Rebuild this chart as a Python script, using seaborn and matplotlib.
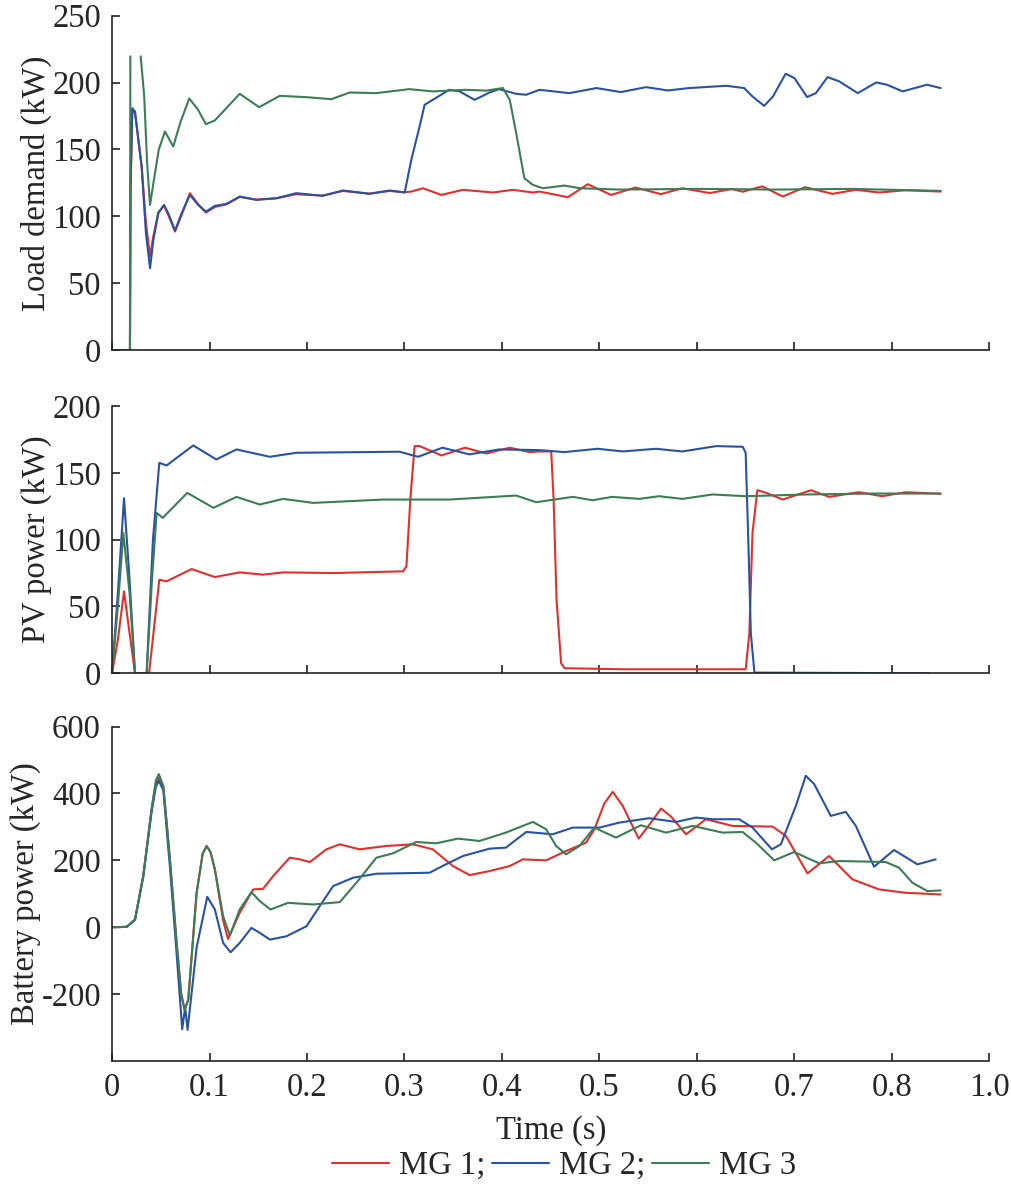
import numpy as np
import pandas as pd
import seaborn as sns
import matplotlib.pyplot as plt
from matplotlib.lines import Line2D

# ---- data (time in s, power in kW) ----
# Load demand
load_mg1_t = [0.0, 0.0184, 0.0190, 0.0208, 0.0236, 0.0304, 0.0348, 0.039, 0.0424, 0.0475, 0.0533, 0.0577,
              0.0646, 0.0714, 0.0799, 0.0884, 0.0963, 0.1055, 0.1175, 0.131, 0.148, 0.1687, 0.189, 0.216,
              0.237, 0.264, 0.2848, 0.3002, 0.307, 0.319, 0.3378, 0.36, 0.3907, 0.4112, 0.4317, 0.4385,
              0.4677, 0.488, 0.512, 0.537, 0.563, 0.585, 0.613, 0.636, 0.647, 0.667, 0.688, 0.711, 0.739,
              0.763, 0.787, 0.814, 0.850]
load_mg1_v = [0, 0, 120, 179.6, 177, 137, 95, 70, 85, 103, 108, 101, 88.6, 101, 117.3, 109, 102.8, 107, 109,
              114.5, 112.5, 113.5, 116.5, 115.5, 119, 117, 119, 118, 118.5, 121, 116, 119.8, 117.8, 119.8,
              117.8, 118.5, 114.3, 124, 116, 121.5, 116.6, 121, 117.4, 120.4, 118.4, 122.4, 114.8, 121.8,
              116.8, 119.8, 117.8, 119.5, 118.5]
load_mg2_t = [0.0, 0.0184, 0.0190, 0.0208, 0.0236, 0.0304, 0.0348, 0.039, 0.0424, 0.0475, 0.0533, 0.0577,
              0.0646, 0.0714, 0.0799, 0.0884, 0.0963, 0.1055, 0.1175, 0.131, 0.148, 0.1687, 0.189, 0.216,
              0.237, 0.264, 0.2848, 0.3002, 0.307, 0.3155, 0.3207, 0.329, 0.346, 0.3566, 0.372, 0.3873,
              0.397, 0.4146, 0.4249, 0.4385, 0.469, 0.497, 0.522, 0.548, 0.570, 0.592, 0.630, 0.6485, 0.657,
              0.669, 0.678, 0.691, 0.700, 0.713, 0.722, 0.734, 0.746, 0.765, 0.784, 0.795, 0.811, 0.836,
              0.850]
load_mg2_v = [0, 0, 120, 180.9, 178.4, 137.2, 87.3, 61.1, 82.3, 102.3, 108.5, 102.3, 89.3, 102.3, 116,
              108.5, 103.5, 107.8, 109.3, 114.8, 112.3, 113.5, 117.3, 115.3, 119.3, 116.8, 119.3, 117.8,
              142.2, 167.2, 183.4, 187.1, 194.6, 193.4, 187.1, 192.6, 195.1, 191.6, 190.9, 194.6, 192.1,
              195.9, 192.9, 196.6, 194.1, 195.9, 197.6, 195.9, 189.6, 182.6, 189.6, 206.6, 203.4, 189.2,
              192.1, 204.1, 200.9, 192.1, 200.1, 198.4, 193.4, 198.4, 195.9]
load_mg3_t = [0.0, 0.0184, 0.0188, 0.0294, 0.0330, 0.036, 0.039, 0.0425, 0.0480, 0.0543, 0.0628, 0.0700,
              0.0792, 0.0880, 0.0963, 0.1055, 0.131, 0.151, 0.172, 0.1995, 0.225, 0.244, 0.271, 0.305,
              0.329, 0.363, 0.384, 0.401, 0.408, 0.4146, 0.423, 0.4317, 0.442, 0.464, 0.48, 0.52, 0.6,
              0.68, 0.76, 0.850]
load_mg3_v = [0, 0, 219.6, 219.6, 190, 140, 108.5, 125, 150, 163.4, 152.2, 170, 188.1, 180, 168.9, 171.7,
              191.6, 181.6, 190.1, 189.1, 187.6, 192.6, 192.1, 195.1, 193.4, 194.6, 194, 195.9, 187.1,
              162.2, 128.5, 123.5, 121, 123, 121, 120, 120.5, 120, 120.5, 119]
load_mg3_seg = [0, 0, 0, 1, 1, 1, 1, 1, 1, 1, 1, 1, 1, 1, 1, 1, 1, 1, 1, 1, 1, 1, 1, 1, 1, 1, 1, 1, 1, 1,
                1, 1, 1, 1, 1, 1, 1, 1, 1, 1]

# PV power
pv_mg1_t = [0.0, 0.006, 0.0123, 0.018, 0.0236, 0.038, 0.0440, 0.0485, 0.056, 0.0816, 0.1055, 0.131, 0.155,
            0.1755, 0.2268, 0.2985, 0.302, 0.306, 0.3104, 0.3155, 0.338, 0.362, 0.384, 0.408, 0.428,
            0.4385, 0.4505, 0.453, 0.456, 0.4607, 0.4641, 0.524, 0.650, 0.6538, 0.657, 0.662, 0.671,
            0.688, 0.717, 0.7357, 0.766, 0.79, 0.814, 0.850]
pv_mg1_v = [0, 25, 61.3, 30, 0, 0, 40, 70, 68.8, 78, 72, 75.5, 73.8, 75.5, 75, 76.3, 80, 130, 170, 170,
            163, 168.8, 164.5, 168.8, 165.5, 166, 166, 130, 55, 7.5, 3.8, 3, 3, 30, 105, 137, 135, 130, 137,
            132, 135.5, 132.5, 135.5, 134.3]
pv_mg2_t = [0.0, 0.006, 0.0123, 0.018, 0.0236, 0.0355, 0.0420, 0.0485, 0.056, 0.0833, 0.107, 0.1277,
            0.1619, 0.189, 0.295, 0.3139, 0.339, 0.3668, 0.397, 0.4385, 0.464, 0.498, 0.524, 0.558,
            0.585, 0.62, 0.647, 0.650, 0.653, 0.6553, 0.659, 0.8381]
pv_mg2_v = [0, 60, 131, 70, 0, 0, 100, 157.5, 155.5, 170.5, 160, 167.5, 162, 165, 165.8, 162, 168.8, 163.8,
            167.5, 167, 165.5, 168, 166, 168, 166, 170, 169.5, 165, 92.5, 30, 0.5, 0]
pv_mg3_t = [0.0, 0.006, 0.0116, 0.018, 0.0236, 0.0355, 0.041, 0.0458, 0.052, 0.0772, 0.104, 0.1277,
            0.1516, 0.1755, 0.2063, 0.278, 0.346, 0.4146, 0.435, 0.4727, 0.493, 0.513, 0.541, 0.561,
            0.585, 0.616, 0.65, 0.712, 0.780, 0.850]
pv_mg3_v = [0, 50, 105, 60, 0, 0, 70, 120, 116.3, 135, 123.8, 132, 126.3, 130.5, 127.5, 130, 130, 133, 128,
            132, 129.5, 132, 130.5, 132.5, 130.5, 133.8, 132.5, 133.8, 134.5, 134.5]

# Battery power
bat_mg1_t = [0.0, 0.015, 0.0236, 0.032, 0.0406, 0.045, 0.048, 0.0526, 0.0594, 0.0663, 0.0710, 0.0745,
             0.0782, 0.0868, 0.093, 0.097, 0.1010, 0.1055, 0.114, 0.119, 0.131, 0.1448, 0.155, 0.1653,
             0.1823, 0.1926, 0.2029, 0.22, 0.2336, 0.254, 0.2814, 0.3087, 0.329, 0.3497, 0.3668, 0.3873,
             0.408, 0.4214, 0.4453, 0.4658, 0.4863, 0.4948, 0.505, 0.5136, 0.5239, 0.5403, 0.5529, 0.5632,
             0.5734, 0.5888, 0.6093, 0.6366, 0.6776, 0.6913, 0.7134, 0.7356, 0.7596, 0.7869, 0.814, 0.850]
bat_mg1_v = [0, 1, 23, 153, 353, 430, 448, 423, 203, -47, -200, -247, -217, 103, 220, 243, 225, 173, 20,
             -35, 43, 113, 115, 153, 208, 203, 195, 233, 248, 233, 243, 248, 233, 183, 156, 168, 183, 203,
             200, 228, 253, 293, 370, 405, 363, 265, 313, 355, 331, 278, 323, 303, 301, 273, 161, 213, 143,
             113, 103, 98]
bat_mg2_t = [0.0, 0.015, 0.0236, 0.032, 0.0406, 0.045, 0.048, 0.0526, 0.0594, 0.0663, 0.0720, 0.0750,
             0.0775, 0.0868, 0.0977, 0.1055, 0.114, 0.1216, 0.131, 0.143, 0.1516, 0.162, 0.179, 0.1995,
             0.2131, 0.2268, 0.2473, 0.2712, 0.3258, 0.339, 0.36, 0.3873, 0.404, 0.425, 0.452, 0.4727,
             0.50, 0.5205, 0.551, 0.5786, 0.599, 0.616, 0.6434, 0.6571, 0.6769, 0.6861, 0.7015, 0.7117,
             0.7203, 0.7373, 0.7527, 0.7630, 0.7817, 0.8022, 0.8262, 0.8449]
bat_mg2_v = [0, 1, 22, 150, 345, 420, 438, 410, 180, -80, -305, -240, -307, -60, 91, 53, -47, -75, -47,
             -2, -17, -37, -27, 3, 63, 123, 148, 160, 163, 183, 213, 235, 238, 285, 278, 298, 298, 313,
             326, 315, 328, 323, 323, 298, 233, 248, 363, 453, 428, 333, 345, 303, 181, 231, 188, 203]
bat_mg3_t = [0.0, 0.015, 0.0236, 0.032, 0.0406, 0.045, 0.048, 0.0526, 0.0594, 0.0663, 0.0710, 0.0745,
             0.0782, 0.0868, 0.093, 0.097, 0.1010, 0.1055, 0.114, 0.1209, 0.131, 0.143, 0.1516, 0.1626,
             0.1806, 0.2063, 0.2336, 0.2507, 0.2712, 0.2882, 0.3121, 0.3326, 0.3548, 0.377, 0.404, 0.4317,
             0.4453, 0.4556, 0.4658, 0.4795, 0.4948, 0.517, 0.5426, 0.5683, 0.5956, 0.6264, 0.6468,
             0.6605, 0.6793, 0.6998, 0.7254, 0.746, 0.7937, 0.8074, 0.8211, 0.8364, 0.850]
bat_mg3_v = [0, 1, 23, 153, 353, 440, 458, 423, 203, -47, -200, -247, -217, 103, 220, 243, 225, 173, 33,
             -25, 53, 105, 78, 53, 73, 68, 75, 133, 208, 221, 255, 251, 265, 258, 283, 315, 293, 243, 218,
             243, 298, 268, 305, 283, 303, 283, 285, 253, 200, 225, 191, 198, 195, 178, 133, 108, 110]

series_names = ['MG 1', 'MG 2', 'MG 3']
legend_labels = ['MG 1;', 'MG 2;', 'MG 3']
colors = {'MG 1': '#e0302e', 'MG 2': '#2a52a2', 'MG 3': '#3d7d56'}

x_ticks = [0, 0.1, 0.2, 0.3, 0.4, 0.5, 0.6, 0.7, 0.8, 0.9]
x_tick_labels = ['0', '0.1', '0.2', '0.3', '0.4', '0.5', '0.6', '0.7', '0.8', '1.0']


def to_frame(parts):
    rows = []
    for name, t, v, seg in parts:
        if seg is None:
            seg = [0] * len(t)
        rows.append(pd.DataFrame({'t': t, 'p': v, 'series': name,
                                  'seg': [f'{name}-{s}' for s in seg]}))
    return pd.concat(rows, ignore_index=True)


load_df = to_frame([('MG 1', load_mg1_t, load_mg1_v, None),
                    ('MG 2', load_mg2_t, load_mg2_v, None),
                    ('MG 3', load_mg3_t, load_mg3_v, load_mg3_seg)])
pv_df = to_frame([('MG 1', pv_mg1_t, pv_mg1_v, None),
                  ('MG 2', pv_mg2_t, pv_mg2_v, None),
                  ('MG 3', pv_mg3_t, pv_mg3_v, None)])
bat_df = to_frame([('MG 1', bat_mg1_t, bat_mg1_v, None),
                   ('MG 2', bat_mg2_t, bat_mg2_v, None),
                   ('MG 3', bat_mg3_t, bat_mg3_v, None)])

sns.set_style('ticks')
plt.rcParams['font.family'] = ['Liberation Serif', 'DejaVu Serif']
plt.rcParams['font.size'] = 23.5
plt.rcParams['axes.unicode_minus'] = False

FS = 23.5

fig = plt.figure(figsize=(10.11, 11.91), dpi=100)
ax1 = fig.add_axes([0.1108, 0.7061, 0.8678, 0.2807])
ax2 = fig.add_axes([0.1108, 0.4347, 0.8678, 0.2244])
ax3 = fig.add_axes([0.1108, 0.1092, 0.8678, 0.2807])

panels = [
    (ax1, load_df, 'Load demand (kW)', (0, 250), [0, 50, 100, 150, 200, 250]),
    (ax2, pv_df, 'PV power (kW)', (0, 200), [0, 50, 100, 150, 200]),
    (ax3, bat_df, 'Battery power (kW)', (-400, 600), [-200, 0, 200, 400, 600]),
]

for ax, df, ylabel, ylim, yticks in panels:
    sns.lineplot(data=df, x='t', y='p', hue='series', units='seg', estimator=None,
                 sort=False, palette=colors, hue_order=series_names, linewidth=1.5,
                 legend=False, ax=ax)
    ax.set_xlim(0, 0.9)
    ax.set_ylim(*ylim)
    ax.set_yticks(yticks)
    ax.set_xticks(x_ticks)
    ax.set_ylabel(ylabel, fontsize=FS, labelpad=0)
    ax.set_xlabel('')
    sns.despine(ax=ax)
    for sp in ['left', 'bottom']:
        ax.spines[sp].set_linewidth(1.2)
        ax.spines[sp].set_color('#222222')
    ax.tick_params(direction='in', length=6, width=1.2, color='#222222',
                   labelsize=FS, pad=8)

ax1.set_xticklabels([])
ax2.set_xticklabels([])
ax3.set_xticklabels(x_tick_labels)
ax3.set_xlabel('Time (s)', fontsize=FS, labelpad=9)

handles = [Line2D([], [], color=colors[n], linewidth=1.5) for n in series_names]
fig.legend(handles, legend_labels, loc='center', bbox_to_anchor=(0.558, 0.021), ncol=3,
           frameon=False, fontsize=FS, handlelength=1.75, handletextpad=0.3,
           columnspacing=0.2)

fig.savefig('out.png', dpi=100)
